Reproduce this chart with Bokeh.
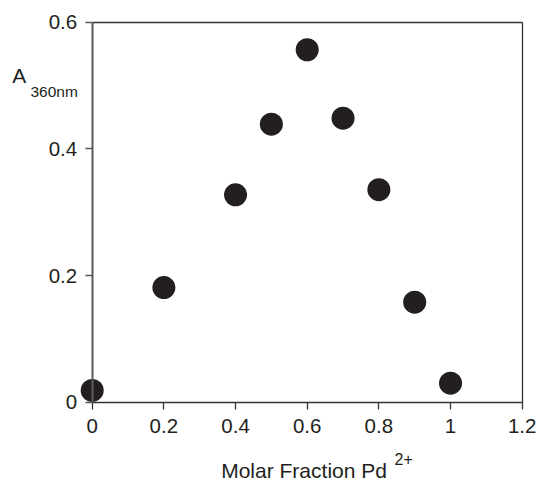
from bokeh.plotting import figure
from bokeh.models import Range1d, FixedTicker, LinearAxis, Label
from bokeh.embed import file_html
from bokeh.resources import INLINE

# data
molar_fraction = [0.0, 0.2, 0.4, 0.5, 0.6, 0.7, 0.8, 0.9, 1.0]
absorbance = [0.0185, 0.181, 0.3275, 0.439, 0.5565, 0.4485, 0.3355, 0.158, 0.030]
x_ticks = [0, 0.2, 0.4, 0.6, 0.8, 1.0, 1.2]
x_tick_labels = ["0", "0.2", "0.4", "0.6", "0.8", "1", "1.2"]
y_ticks = [0, 0.2, 0.4, 0.6]
y_tick_labels = ["0", "0.2", "0.4", "0.6"]

TXT = "#231f20"
FONT = "Liberation Sans"

# frame fills whole canvas; ranges chosen so the box sits where the reference has it
PXX = 358.33   # pixels per x unit
PXY = 633.33   # pixels per y unit
X0, Y0 = 91.7, 401.7
W, H = 538, 481

p = figure(width=W, height=H, output_backend="svg", toolbar_location=None,
           x_range=Range1d(-X0 / PXX, (W - X0) / PXX),
           y_range=Range1d(-(H - Y0) / PXY, Y0 / PXY),
           x_axis_type=None, y_axis_type=None, min_border=0)
p.grid.visible = False
p.outline_line_color = None
p.background_fill_color = "white"
p.border_fill_color = "white"

# bottom axis
xa = LinearAxis(ticker=FixedTicker(ticks=x_ticks),
                major_label_overrides={t: s for t, s in zip(x_ticks, x_tick_labels)},
                bounds=(0, 1.2), fixed_location=0)
xa.axis_line_color = "#333333"
xa.axis_line_width = 1.3
xa.major_tick_line_color = "#333333"
xa.major_tick_line_width = 1.3
xa.major_tick_in = 0
xa.major_tick_out = 7
xa.minor_tick_line_color = None
xa.major_label_standoff = 10
xa.major_label_text_font = FONT
xa.major_label_text_font_size = "20.5px"
xa.major_label_text_color = TXT
p.add_layout(xa, "below")

# left axis
ya = LinearAxis(ticker=FixedTicker(ticks=y_ticks),
                major_label_overrides={t: s for t, s in zip(y_ticks, y_tick_labels)},
                bounds=(0, 0.6), fixed_location=0)
ya.axis_line_color = "#5a5a5a"
ya.axis_line_width = 2
ya.major_tick_line_color = "#5a5a5a"
ya.major_tick_line_width = 1.5
ya.major_tick_in = 0
ya.major_tick_out = 7
ya.minor_tick_line_color = None
ya.major_label_standoff = 8
ya.major_label_text_font = FONT
ya.major_label_text_font_size = "20.5px"
ya.major_label_text_color = TXT
p.add_layout(ya, "left")

# top and right frame lines
for place, b, loc in (("above", (0, 1.2), 0.6), ("right", (0, 0.6), 1.2)):
    ax = LinearAxis(ticker=FixedTicker(ticks=[]), bounds=b, fixed_location=loc)
    ax.axis_line_color = "#333333"
    ax.axis_line_width = 1.3
    ax.major_tick_line_color = None
    ax.minor_tick_line_color = None
    ax.major_tick_in = 0
    ax.major_tick_out = 0
    ax.major_label_standoff = 0
    ax.major_label_text_font_size = "0px"
    p.add_layout(ax, place)

p.scatter(molar_fraction, absorbance, size=23, color="#231f20", line_color=None)

labels = [
    ("A", -0.2233, 0.5163, "21px"),
    ("360nm", -0.1722, 0.4901, "15.5px"),
    ("Molar Fraction Pd", 0.3600, -0.1076, "21px"),
    ("2+", 0.8436, -0.0904, "16px"),
]
for t, lx, ly, fs in labels:
    p.add_layout(Label(x=lx, y=ly, text=t, text_font=FONT, text_font_size=fs,
                       text_color=TXT, text_align="left", text_baseline="alphabetic"))

open("out.html", "w").write(file_html(p, INLINE))
